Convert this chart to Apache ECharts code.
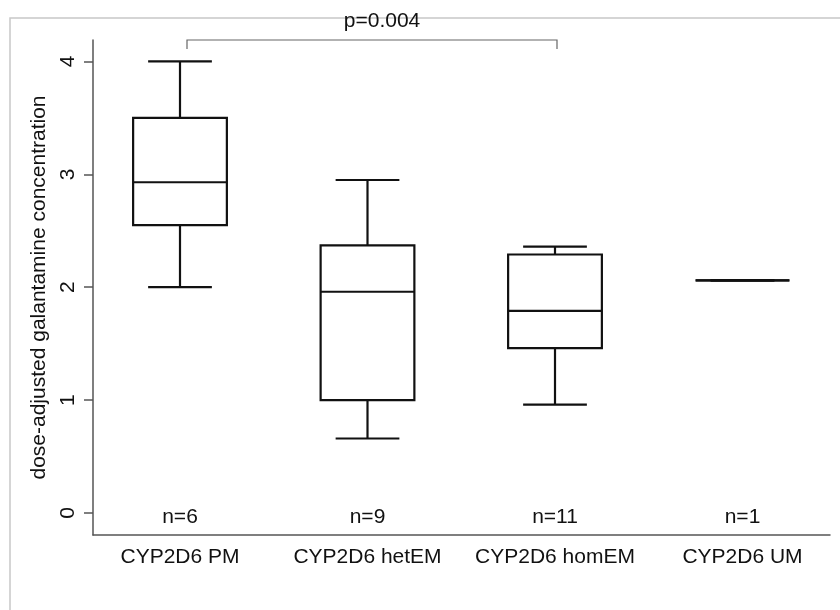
<!DOCTYPE html>
<html>
<head>
<meta charset="utf-8">
<script src="https://cdn.jsdelivr.net/npm/echarts@6/dist/echarts.min.js"></script>
<style>
  html, body { margin: 0; padding: 0; background: #fff; }
  #main { width: 840px; height: 610px; }
</style>
</head>
<body>
<div id="main"></div>
<script>
// data
const categories = ['CYP2D6 PM', 'CYP2D6 hetEM', 'CYP2D6 homEM', 'CYP2D6 UM'];
const lowWhisker = [2.00, 0.66, 0.96, 2.06];
const q1 = [2.55, 1.00, 1.46, 2.06];
const median = [2.93, 1.96, 1.79, 2.06];
const q3 = [3.50, 2.37, 2.29, 2.06];
const highWhisker = [4.00, 2.95, 2.36, 2.06];
const nCounts = [6, 9, 11, 1];
const yTicks = [0, 1, 2, 3, 4];
const pText = 'p=0.004';

const yMin = -0.195, yMax = 4.19;
const font = 'Liberation Sans, Arial, sans-serif';

const boxData = categories.map((c, i) => [i, lowWhisker[i], q1[i], median[i], q3[i], highWhisker[i], nCounts[i]]);

function renderBox(params, api) {
  const i = api.value(0);
  const band = api.size([1, 0])[0];
  const halfBox = band * 0.25;
  const halfCap = band * 0.17;
  const lo = api.coord([i, api.value(1)]);
  const b1 = api.coord([i, api.value(2)]);
  const md = api.coord([i, api.value(3)]);
  const b3 = api.coord([i, api.value(4)]);
  const hi = api.coord([i, api.value(5)]);
  const zero = api.coord([i, 0]);
  const x = lo[0];
  const st = { stroke: '#111', lineWidth: 2.2, fill: null };
  const ln = (x1, y1, x2, y2) => ({ type: 'line', shape: { x1, y1, x2, y2 }, style: st });
  return {
    type: 'group',
    children: [
      ln(x, hi[1], x, b3[1]),
      ln(x, lo[1], x, b1[1]),
      ln(x - halfCap, hi[1], x + halfCap, hi[1]),
      ln(x - halfCap, lo[1], x + halfCap, lo[1]),
      { type: 'rect', shape: { x: x - halfBox, y: b3[1], width: halfBox * 2, height: b1[1] - b3[1] }, style: st },
      ln(x - halfBox, md[1], x + halfBox, md[1]),
      { type: 'text', x: x, y: zero[1] + 4,
        style: { text: 'n=' + api.value(6), fill: '#111', font: '21px ' + font, align: 'center', verticalAlign: 'middle' } }
    ]
  };
}

const chart = echarts.init(document.getElementById('main'));
chart.setOption({
  backgroundColor: '#fff',
  animation: false,
  grid: [
    { left: 93, right: 10, top: 40, bottom: 75 },
    { left: 86.25, right: 3.75, top: 40, bottom: 75 }
  ],
  xAxis: [
    { type: 'category', gridIndex: 0, data: categories,
      axisLine: { show: true, onZero: false, lineStyle: { color: '#555', width: 1.5 } },
      axisTick: { show: false }, axisLabel: { show: false }, splitLine: { show: false } },
    { type: 'category', gridIndex: 1, data: categories,
      axisLine: { show: false, onZero: false }, axisTick: { show: false }, splitLine: { show: false },
      axisLabel: { interval: 0, color: '#111', fontSize: 21, fontFamily: font, margin: 12 } }
  ],
  yAxis: [
    { type: 'value', gridIndex: 0, min: yMin, max: yMax,
      name: 'dose-adjusted galantamine concentration', nameLocation: 'middle', nameGap: 29, nameRotate: 90,
      nameTextStyle: { color: '#111', fontSize: 21, fontFamily: font },
      axisLine: { show: true, lineStyle: { color: '#555', width: 1.5 } },
      axisTick: { show: true, length: 9, customValues: yTicks, lineStyle: { color: '#555', width: 1.5 } },
      axisLabel: { show: true, customValues: yTicks, rotate: 90, color: '#111', fontSize: 21, fontFamily: font, margin: 14 },
      splitLine: { show: false } },
    { type: 'value', gridIndex: 1, min: yMin, max: yMax, show: false }
  ],
  series: [
    { type: 'custom', xAxisIndex: 1, yAxisIndex: 1, data: boxData,
      encode: { x: 0, y: [1, 2, 3, 4, 5] }, renderItem: renderBox, silent: true }
  ],
  graphic: [
    // outer frame
    { type: 'polyline', shape: { points: [[10, 610], [10, 18], [840, 18]] }, style: { stroke: '#c8c8c8', lineWidth: 1.5, fill: null } },
    // significance bracket
    { type: 'polyline', shape: { points: [[187, 49], [187, 40], [557, 40], [557, 49]] }, style: { stroke: '#666', lineWidth: 1.2, fill: null } },
    { type: 'text', x: 382, y: 21, style: { text: pText, fill: '#111', font: '21px ' + font, align: 'center', verticalAlign: 'middle' } }
  ]
});
</script>
</body>
</html>
